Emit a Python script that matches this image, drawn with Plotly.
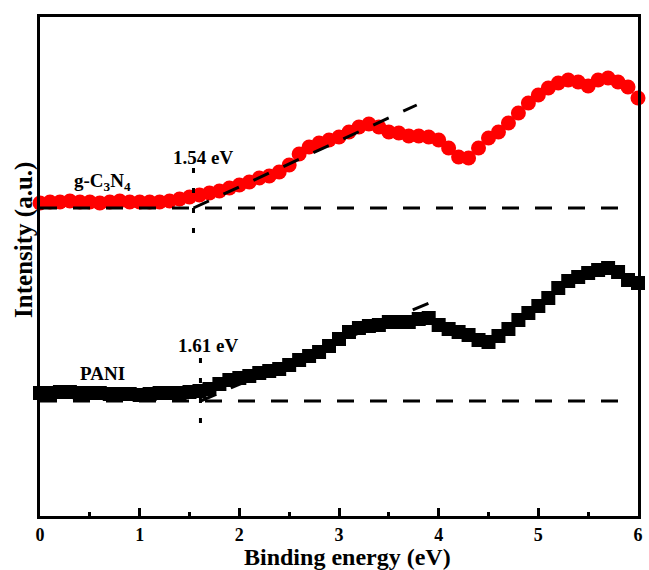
import plotly.graph_objects as go

# Binding energy grid (eV)
energy = [round(0.1 * i, 1) for i in range(61)]

# VB-XPS intensity (a.u.) for g-C3N4
gcn_intensity = [313, 314, 314, 315, 314, 314, 313, 314, 315, 314,
                 314, 314, 314, 315, 317, 319, 321, 323, 325, 328,
                 331, 334, 338, 340, 344, 351, 362, 369, 373, 376,
                 379, 384, 389, 392, 389, 384, 383, 380, 380, 379,
                 376, 368, 359, 358, 368, 378, 384, 393, 403, 413,
                 421, 428, 433, 436, 434, 430, 436, 438, 434, 429,
                 418]

# VB-XPS intensity (a.u.) for PANI
pani_intensity = [123, 123, 124, 124, 123, 123, 123, 122, 122, 122,
                  121, 122, 123, 123, 123, 124, 125, 127, 132, 136,
                  138, 140, 143, 145, 147, 151, 156, 160, 164, 170,
                  177, 184, 188, 190, 191, 194, 194, 194, 197, 198,
                  191, 187, 184, 181, 176, 174, 180, 187, 196, 203,
                  210, 218, 228, 235, 239, 243, 246, 248, 244, 236,
                  233]

# Valence band edges (eV) and the fitted baseline / tangent lines
gcn_edge = 1.54
pani_edge = 1.61
gcn_baseline = 308
pani_baseline = 115
gcn_tangent_end = (3.78, 411)
pani_tangent_end = (3.95, 215)
baseline_end = 5.85
gcn_marker_span = (280, 348)
pani_marker_span = (91, 158)

x_ticks = [0, 1, 2, 3, 4, 5, 6]

FONT = "Liberation Serif"
dash_long = "17px,16px"
dash_dot = "5px,15px"

fig = go.Figure()

fig.add_trace(go.Scatter(
    x=energy, y=gcn_intensity, mode="markers", name="g-C3N4",
    marker=dict(symbol="circle", size=15, color="#ff0000", line=dict(width=0)),
    cliponaxis=False, showlegend=False))

fig.add_trace(go.Scatter(
    x=energy, y=pani_intensity, mode="markers", name="PANI",
    marker=dict(symbol="square", size=14, color="#000000", line=dict(width=0)),
    cliponaxis=False, showlegend=False))

line_style = dict(color="black", width=3)

# Baselines
for base in (gcn_baseline, pani_baseline):
    fig.add_trace(go.Scatter(
        x=[0, baseline_end], y=[base, base], mode="lines",
        line=dict(dash=dash_long, **line_style), showlegend=False, hoverinfo="skip"))

# Tangents to the leading edge
for edge, base, end in ((gcn_edge, gcn_baseline, gcn_tangent_end),
                        (pani_edge, pani_baseline, pani_tangent_end)):
    fig.add_trace(go.Scatter(
        x=[edge, end[0]], y=[base, end[1]], mode="lines",
        line=dict(dash=dash_long, **line_style), showlegend=False, hoverinfo="skip"))

# Vertical markers at the band edges
for edge, span in ((gcn_edge, gcn_marker_span), (pani_edge, pani_marker_span)):
    fig.add_trace(go.Scatter(
        x=[edge, edge], y=[span[1], span[0]], mode="lines",
        line=dict(dash=dash_dot, **line_style), showlegend=False, hoverinfo="skip"))

label_font = dict(family=FONT, size=19, color="black", weight="bold")
annotations = [
    dict(x=1.64, y=359, text=f"{gcn_edge:.2f} eV"),
    dict(x=0.63, y=334, text="g-C<sub>3</sub>N<sub>4</sub>"),
    dict(x=1.69, y=171, text=f"{pani_edge:.2f} eV"),
    dict(x=0.63, y=143, text="PANI"),
]
for a in annotations:
    a.update(xref="x", yref="y", showarrow=False, font=label_font,
             xanchor="center", yanchor="middle")

# Axis titles
annotations.append(dict(
    text="Binding energy (eV)", xref="paper", yref="paper", x=0.514, y=-0.052,
    showarrow=False, xanchor="center", yanchor="top",
    font=dict(family=FONT, size=24, color="black", weight="bold")))
annotations.append(dict(
    text="Intensity (a.u.)", xref="paper", yref="paper", x=-0.027, y=0.553,
    textangle=-90, showarrow=False, xanchor="center", yanchor="middle",
    font=dict(family=FONT, size=25, color="black", weight="bold")))

fig.update_layout(
    width=649, height=570,
    margin=dict(l=40, r=6, t=17, b=54),
    paper_bgcolor="white", plot_bgcolor="white",
    annotations=annotations,
    xaxis=dict(
        range=[0, 6], tickvals=x_ticks, ticktext=[str(t) for t in x_ticks],
        ticks="inside", ticklen=8, tickwidth=2.5, tickcolor="black",
        minor=dict(ticks="inside", ticklen=4, tickwidth=2.5, dtick=0.5, tick0=0,
                   tickcolor="black", showgrid=False),
        showline=True, linecolor="black", linewidth=3, mirror=True,
        showgrid=False, zeroline=False,
        tickfont=dict(family=FONT, size=18, color="black", weight="bold"),
    ),
    yaxis=dict(
        range=[0, 499], showticklabels=False, ticks="",
        showline=True, linecolor="black", linewidth=3, mirror=True,
        showgrid=False, zeroline=False,
    ),
)

fig.write_html("out.html")
